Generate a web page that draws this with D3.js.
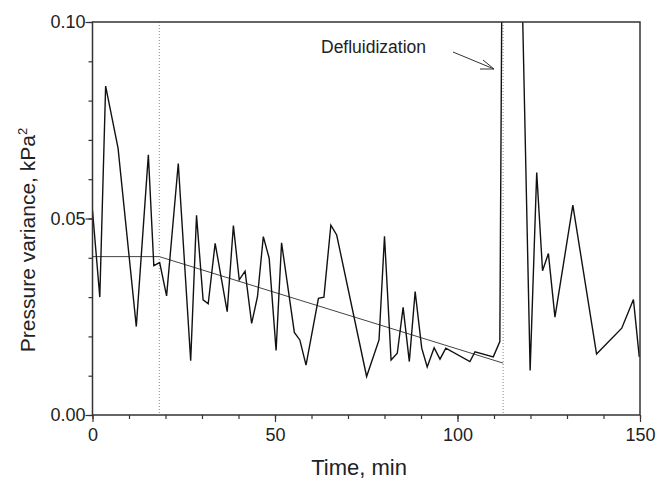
<!DOCTYPE html>
<html>
<head>
<meta charset="utf-8">
<script src="https://cdn.jsdelivr.net/npm/d3@7"></script>
<style>
  body { margin: 0; background: #fff; }
  text { font-family: Arial, "Liberation Sans", sans-serif; fill: #222; }
</style>
</head>
<body>
<svg id="chart" width="664" height="480"></svg>
<script>
// measured variance series, time in min
var time_min = [0, 2.0, 3.6, 7.0, 12.0, 15.3, 16.8, 18.4, 20.3, 23.5, 26.9, 28.5, 30.3, 31.7,
    33.6, 36.9, 38.6, 40.2, 41.8, 43.6, 45.2, 46.8, 48.4, 50.3, 51.8, 55.3, 56.8, 58.5, 61.9,
    63.4, 65.3, 66.9, 75.1, 78.5, 80.0, 81.8, 83.5, 85.1, 86.8, 88.4, 90.2, 91.7, 93.6, 95.2,
    96.8, 103.4, 104.8, 109.8, 111.6, 112.6, 115.6, 119.9, 121.7, 123.3, 124.9, 126.7, 131.6,
    138.1, 145.0, 148.2, 149.8];
var variance = [0.052, 0.030, 0.0837, 0.0679, 0.0225, 0.0662, 0.038, 0.0388, 0.0303, 0.064,
    0.0138, 0.0508, 0.0293, 0.0283, 0.0437, 0.0263, 0.0482, 0.0344, 0.0366, 0.0233, 0.0301,
    0.0454, 0.0399, 0.0164, 0.0438, 0.021, 0.0191, 0.0127, 0.0297, 0.030, 0.0483, 0.0458,
    0.0098, 0.0191, 0.0455, 0.014, 0.0157, 0.0274, 0.0136, 0.0314, 0.017, 0.0122, 0.0171,
    0.0142, 0.017, 0.0136, 0.0161, 0.0148, 0.0187, 0.18, 0.2, 0.0113, 0.0617, 0.0367, 0.0411,
    0.0249, 0.0534, 0.0155, 0.0221, 0.0294, 0.0148];

// fitted trend (flat, then linear decay)
var trend_time = [0, 18.3, 112.5];
var trend_value = [0.0403, 0.0403, 0.0132];

// dotted markers
var marker_time = [18.3, 112.5];

var x_ticks_major = [0, 50, 100, 150];
var y_ticks_major = [0, 0.05, 0.10];

var svg = d3.select("#chart");

var x = d3.scaleLinear().domain([0, 150]).range([92.5, 640]);
var y = d3.scaleLinear().domain([0, 0.10]).range([415, 22]);

var axis_color = "#333";

// clip for the data
svg.append("clipPath").attr("id", "plot-clip")
    .append("rect")
    .attr("x", x(0)).attr("y", y(0.10))
    .attr("width", x(150) - x(0)).attr("height", y(0) - y(0.10));

// dotted vertical markers
svg.selectAll(".marker")
    .data(marker_time)
    .enter().append("line")
    .attr("class", "marker")
    .attr("x1", function(d) { return x(d); })
    .attr("x2", function(d) { return x(d); })
    .attr("y1", y(0.10))
    .attr("y2", y(0))
    .attr("stroke", "#888")
    .attr("stroke-width", 1)
    .attr("stroke-dasharray", "1,2");

var line = d3.line()
    .x(function(d) { return x(d[0]); })
    .y(function(d) { return y(d[1]); });

var trend = trend_time.map(function(t, i) { return [t, trend_value[i]]; });
svg.append("path")
    .datum(trend)
    .attr("d", line)
    .attr("fill", "none")
    .attr("stroke", "#444")
    .attr("stroke-width", 1);

var series = time_min.map(function(t, i) { return [t, variance[i]]; });
svg.append("path")
    .datum(series)
    .attr("d", line)
    .attr("clip-path", "url(#plot-clip)")
    .attr("fill", "none")
    .attr("stroke", "#111")
    .attr("stroke-width", 1.4)
    .attr("stroke-linejoin", "miter");

// frame
svg.append("rect")
    .attr("x", x(0)).attr("y", y(0.10))
    .attr("width", x(150) - x(0)).attr("height", y(0) - y(0.10))
    .attr("fill", "none")
    .attr("stroke", axis_color)
    .attr("stroke-width", 1.5);

// axes: minor ticks first, then major with labels
var x_minor = d3.axisBottom(x).tickValues(d3.range(0, 151, 10)).tickSize(4).tickFormat("");
var x_major = d3.axisBottom(x).tickValues(x_ticks_major).tickSize(7).tickPadding(6)
    .tickFormat(d3.format("d"));
var y_minor = d3.axisLeft(y).tickValues(d3.range(0, 0.1001, 0.01)).tickSize(4).tickFormat("");
var y_major = d3.axisLeft(y).tickValues(y_ticks_major).tickSize(7).tickPadding(0)
    .tickFormat(d3.format(".2f"));

var draw_axis = function(gen, transform) {
    var g = svg.append("g").attr("transform", transform).call(gen);
    g.select(".domain").remove();
    g.selectAll("line").attr("stroke", axis_color).attr("stroke-width", 1.2);
    g.selectAll("text")
        .style("font-family", "Arial, 'Liberation Sans', sans-serif")
        .style("font-size", "18px")
        .attr("fill", "#222");
    return g;
};

draw_axis(x_minor, "translate(0," + y(0) + ")");
draw_axis(x_major, "translate(0," + y(0) + ")");
draw_axis(y_minor, "translate(" + x(0) + ",0)");
draw_axis(y_major, "translate(" + x(0) + ",0)");

// axis titles
svg.append("text")
    .attr("x", 359)
    .attr("y", 475)
    .attr("text-anchor", "middle")
    .style("font-size", "22px")
    .text("Time, min");

var ytitle = svg.append("text")
    .attr("transform", "translate(35,240) rotate(-90)")
    .attr("text-anchor", "middle")
    .style("font-size", "21px");
ytitle.append("tspan").text("Pressure variance, kPa");
ytitle.append("tspan").attr("dy", -8).style("font-size", "13px").text("2");

// annotation
svg.append("text")
    .attr("x", 321)
    .attr("y", 53)
    .style("font-size", "17.5px")
    .text("Defluidization");

svg.append("path")
    .attr("d", "M453,52 L494,69 M494,69 L480,69 M494,69 L483,60")
    .attr("fill", "none")
    .attr("stroke", "#333")
    .attr("stroke-width", 1);
</script>
</body>
</html>
